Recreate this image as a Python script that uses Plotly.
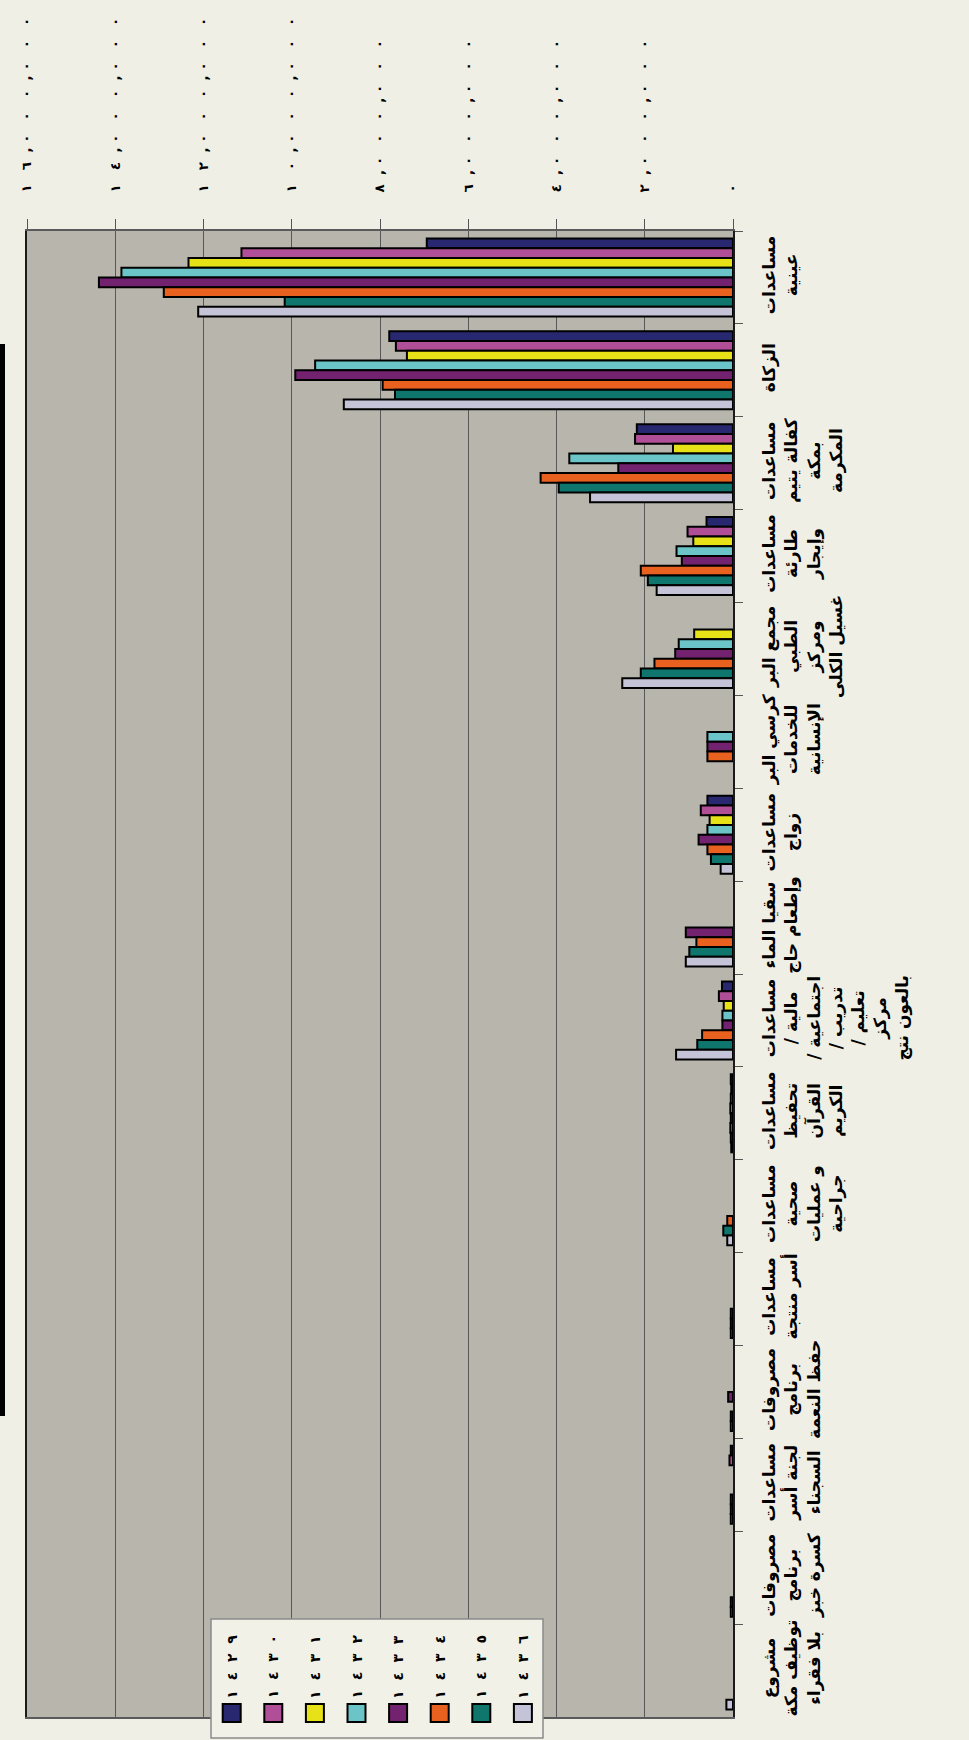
import plotly.graph_objects as go

# ---------------- data ----------------
categories = [
    "مساعدات<br>عينية",
    "الزكاة",
    "مساعدات<br>كفالة يتيم<br>بمكة<br>المكرمة",
    "مساعدات<br>طارئة<br>وإيجار",
    "مجمع البر<br>الطبي<br>ومركز<br>غسيل الكلى",
    "كرسي البر<br>للخدمات<br>الإنسانية",
    "مساعدات<br>زواج",
    "سقيا الماء<br>وإطعام حاج",
    "مساعدات<br>/ مالية<br>/ اجتماعية<br>/ تدريب<br>/ تعليم<br>مركز<br>بالعون نتج",
    "مساعدات<br>تحفيظ<br>القرآن<br>الكريم",
    "مساعدات<br>صحية<br>و عمليات<br>جراحية",
    "مساعدات<br>أسر منتجة",
    "مصروفات<br>برنامج<br>حفظ النعمة",
    "مساعدات<br>لجنة أسر<br>السجناء",
    "مصروفات<br>برنامج<br>كسرة خبز",
    "مشروع<br>توظيف مكة<br>بلا فقراء",
]

years = ["١٤٢٩", "١٤٣٠", "١٤٣١", "١٤٣٢", "١٤٣٣", "١٤٣٤", "١٤٣٥", "١٤٣٦"]

v1429 = [6940000, 7790000, 2180000, 600000, None, None, 580000, None, 250000, 50000, None, None, None, 50000, None, None]
v1430 = [11140000, 7640000, 2220000, 1030000, None, None, 730000, None, 320000, 40000, None, None, None, 80000, None, None]
v1431 = [12340000, 7390000, 1360000, 900000, 880000, None, 530000, None, 210000, 50000, None, None, None, None, None, None]
v1432 = [13860000, 9470000, 3710000, 1280000, 1230000, 580000, 580000, None, 240000, 60000, None, None, None, None, None, None]
v1433 = [14370000, 9920000, 2600000, 1160000, 1310000, 580000, 780000, 1070000, 240000, 50000, None, None, 110000, None, None, None]
v1434 = [12900000, 7940000, 4360000, 2090000, 1780000, 580000, 580000, 830000, 700000, 60000, 130000, 50000, None, 50000, None, None]
v1435 = [10160000, 7660000, 3950000, 1930000, 2090000, None, 500000, 990000, 810000, 50000, 220000, 50000, 50000, 50000, 50000, None]
v1436 = [12120000, 8820000, 3240000, 1730000, 2510000, None, 280000, 1070000, 1290000, 40000, 130000, 50000, 50000, 50000, 50000, 150000]

series_values = [v1429, v1430, v1431, v1432, v1433, v1434, v1435, v1436]
series_colors = ["#27286f", "#b04f97", "#e7e117", "#6bc4c7", "#73226f", "#e8611f", "#0f766e", "#c4c3d7"]

tick_values = [0, 2000000, 4000000, 6000000, 8000000, 10000000, 12000000, 14000000, 16000000]
tick_labels = ["٠", "٢,٠٠٠,٠٠٠", "٤,٠٠٠,٠٠٠", "٦,٠٠٠,٠٠٠", "٨,٠٠٠,٠٠٠",
               "١٠,٠٠٠,٠٠٠", "١٢,٠٠٠,٠٠٠", "١٤,٠٠٠,٠٠٠", "١٦,٠٠٠,٠٠٠"]

# ---------------- helpers ----------------
NB = "\u00a0"


def spaced(s, gap=2):
    out = ""
    for i, c in enumerate(s):
        out += c
        if i < len(s) - 1:
            if c == ",":
                out += NB
            elif s[i + 1] == ",":
                out += NB * max(gap - 1, 1)
            else:
                out += NB * gap
    return "\u202d" + out + "\u202c"


W, H = 969, 1740
PL, PR, PT, PB = 27, 733, 231, 1717


def px(x):
    return (x - PL) / (PR - PL)


def py(y):
    return (PB - y) / (PB - PT)


FONT = "DejaVu Sans"

fig = go.Figure()
for name, vals, col in zip(years, series_values, series_colors):
    fig.add_trace(go.Bar(
        y=categories, x=vals, orientation="h", name=name,
        marker=dict(color=col, line=dict(color="#000000", width=2)),
        showlegend=False,
    ))

fig.update_layout(
    width=W, height=H,
    margin=dict(l=PL, r=W - PR, t=PT, b=H - PB, pad=0, autoexpand=False),
    paper_bgcolor="#f0efe5",
    plot_bgcolor="#b7b5ac",
    barmode="group",
    bargap=0.16,
    bargroupgap=0,
    font=dict(family=FONT, color="#000000"),
)

fig.update_xaxes(
    side="top",
    automargin=False,
    range=[16000000, 0],
    tickvals=tick_values,
    ticktext=[spaced(t, 3) for t in tick_labels],
    tickangle=-90,
    tickfont=dict(family=FONT, size=13.5, color="#000000", weight="bold"),
    ticks="outside", ticklen=10, tickcolor="#555555", tickwidth=1,
    ticklabelstandoff=24,
    showgrid=True, gridcolor="#585858", gridwidth=1,
    showline=True, linecolor="#5a5a5a", linewidth=1.5, mirror=True,
    zeroline=False,
)

fig.update_yaxes(
    side="right",
    automargin=False,
    autorange="reversed",
    tickangle=-90,
    tickfont=dict(family=FONT, size=17, color="#000000", weight="bold"),
    ticks="outside", ticklen=8, tickcolor="#555555", tickwidth=1,
    tickson="boundaries",
    ticklabelstandoff=20,
    showgrid=False,
    showline=True, linecolor="#1a1a1a", linewidth=2, mirror=True,
)

shapes = []
# black strip at the left edge
shapes.append(dict(type="rect", xref="paper", yref="paper",
                   x0=px(0), x1=px(5), y0=py(1416), y1=py(344),
                   fillcolor="#000000", line=dict(width=0), layer="above"))

# manual legend (rotated labels)
shapes.append(dict(type="rect", xref="paper", yref="paper",
                   x0=px(211), x1=px(543), y0=py(1738), y1=py(1619),
                   fillcolor="#f2f1e7", line=dict(color="#8a8a8a", width=1.5), layer="above"))
annotations = []
for i, (name, col) in enumerate(zip(years, series_colors)):
    cx = 231.7 + i * 41.6
    shapes.append(dict(type="rect", xref="paper", yref="paper",
                       x0=px(cx - 9), x1=px(cx + 9), y0=py(1722), y1=py(1704),
                       fillcolor=col, line=dict(color="#000000", width=2), layer="above"))
    annotations.append(dict(xref="paper", yref="paper", x=px(cx), y=py(1667),
                            text=spaced(name, 2), textangle=-90, showarrow=False,
                            xanchor="center", yanchor="middle",
                            font=dict(family=FONT, size=14, color="#000000", weight="bold")))

fig.update_layout(shapes=shapes, annotations=annotations)

fig.write_html("out.html", config={"displayModeBar": False},
               post_script="document.body.style.margin='0px';")
